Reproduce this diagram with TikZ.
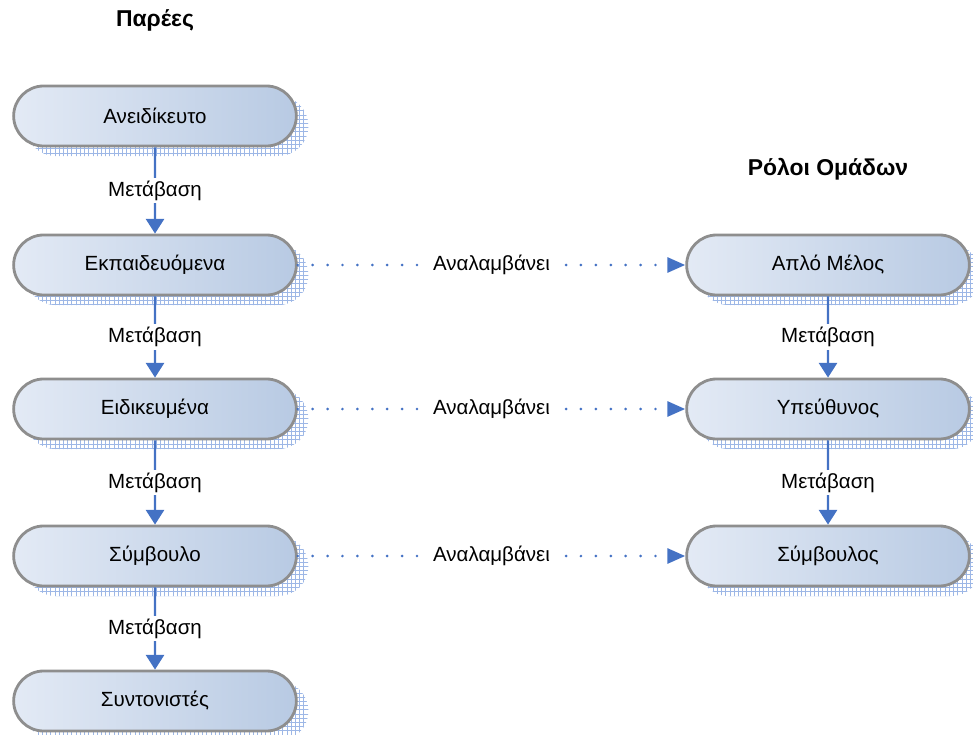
\documentclass[tikz,border=0pt]{standalone}
\usepackage{fontspec}
\setmainfont{Liberation Sans}
\usetikzlibrary{shapes.misc, arrows.meta, shadows, patterns, positioning}
\definecolor{boxlight}{HTML}{E3EAF5}
\definecolor{boxdark}{HTML}{B8CAE3}
\definecolor{boxline}{HTML}{8E8E8E}
\definecolor{flow}{HTML}{4472C4}
\definecolor{hatch}{HTML}{9DB7E6}

\begin{document}
\begin{tikzpicture}[x=0.025cm, y=-0.025cm,
    every node/.style={font=\fontsize{14.6}{17}\selectfont},
    state/.style={rounded rectangle, draw=boxline, line width=2pt,
        minimum width=7.3cm, minimum height=1.5cm,
        left color=boxlight, right color=boxdark,
        general shadow={shadow xshift=0.3cm, shadow yshift=-0.25cm,
            pattern=grid, pattern color=hatch}},
    move/.style={flow, line width=1.5pt, -{Triangle[width=13pt, length=10.5pt]}},
    takes/.style={flow, line width=2.1pt, line cap=round,
        dash pattern=on 0pt off 10.6pt, -{Triangle[width=10.7pt, length=12.8pt]}},
    tag/.style={fill=white, text=black, inner sep=2pt},
    title/.style={font=\fontsize{16.3}{19}\selectfont\bfseries}]
    \useasboundingbox (0,0) rectangle (973,735);

    % group levels
    \node[title] (groups) at (155,20) {Παρέες};
    \node[state] (p1) at (155,116) {Ανειδίκευτο};
    \node[state] (p2) at (155,265) {Εκπαιδευόμενα};
    \node[state] (p3) at (155,409) {Ειδικευμένα};
    \node[state] (p4) at (155,556) {Σύμβουλο};
    \node[state] (p5) at (155,701) {Συντονιστές};

    % team roles
    \node[title] (roles) at (828,169) {Ρόλοι Ομάδων};
    \node[state] (r1) at (828,265) {Απλό Μέλος};
    \node[state] (r2) at (828,409) {Υπεύθυνος};
    \node[state] (r3) at (828,556) {Σύμβουλος};

    \draw[move] (p1) -- node[tag] {Μετάβαση} (p2);
    \draw[move] (p2) -- node[tag] {Μετάβαση} (p3);
    \draw[move] (p3) -- node[tag] {Μετάβαση} (p4);
    \draw[move] (p4) -- node[tag] {Μετάβαση} (p5);
    \draw[move] (r1) -- node[tag] {Μετάβαση} (r2);
    \draw[move] (r2) -- node[tag] {Μετάβαση} (r3);

    \draw[takes] (p2) -- node[tag, inner sep=5pt] {Αναλαμβάνει} (r1);
    \draw[takes] (p3) -- node[tag, inner sep=5pt] {Αναλαμβάνει} (r2);
    \draw[takes] (p4) -- node[tag, inner sep=5pt] {Αναλαμβάνει} (r3);
\end{tikzpicture}
\end{document}
